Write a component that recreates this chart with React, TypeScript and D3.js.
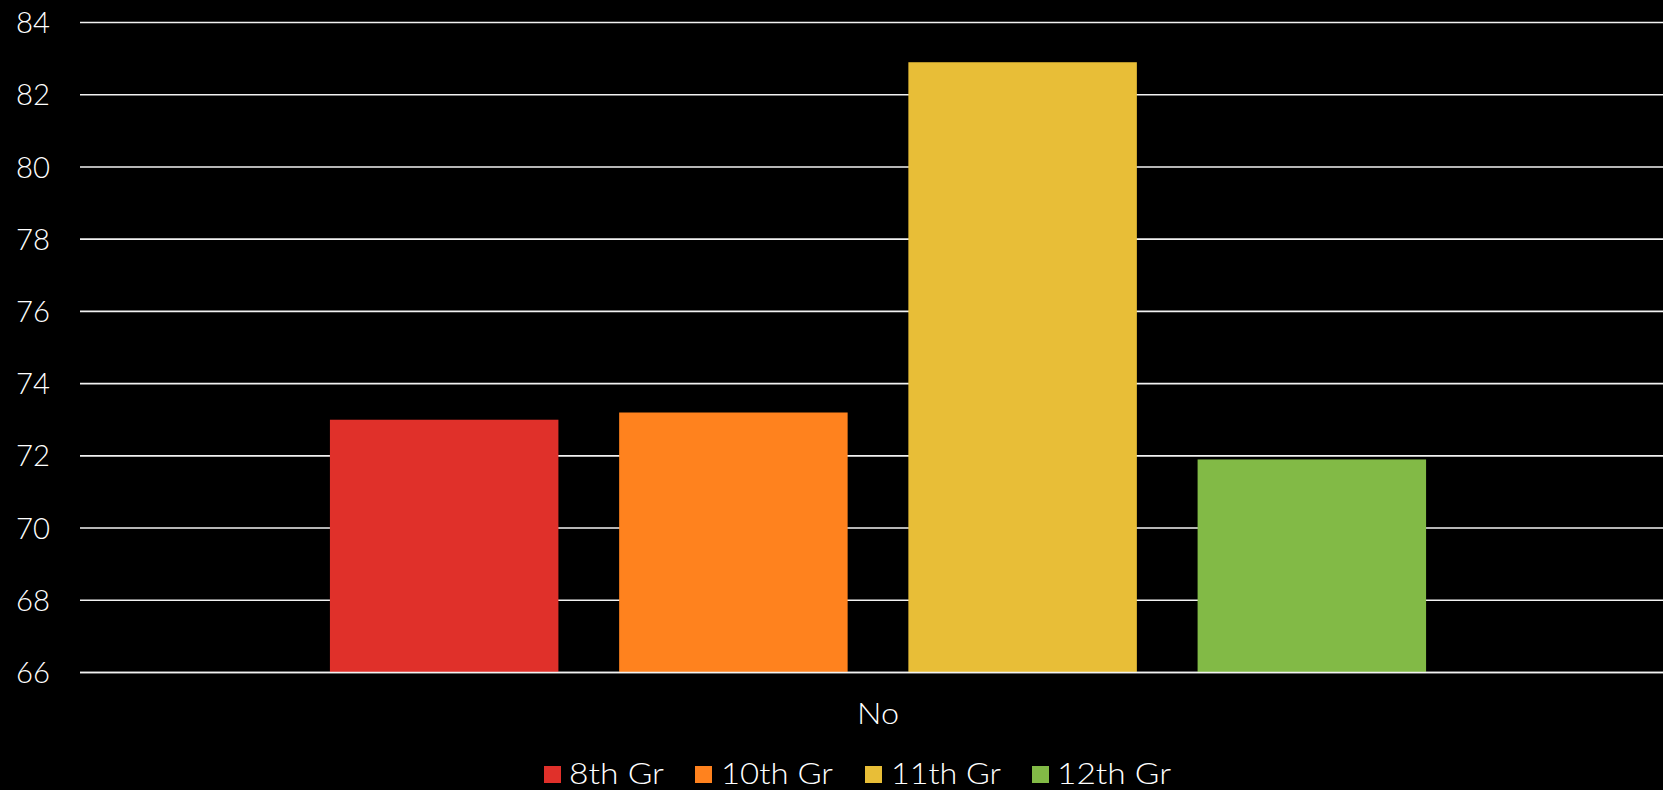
import React from "react";
import * as d3 from "d3";

const categories = ["No"];
const seriesNames = ["8th Gr", "10th Gr", "11th Gr", "12th Gr"];
const seriesValues = [73.0, 73.2, 82.9, 71.9];
const seriesColors = ["#E0302A", "#FF821E", "#E8BE37", "#82BA46"];
const yTicks = [66, 68, 70, 72, 74, 76, 78, 80, 82, 84];

const W = 1663;
const H = 790;
const FONT = "Lato, 'Open Sans', sans-serif";

export default function App() {
  const plotLeft = 80;
  const plotRight = 1676;
  const y = d3.scaleLinear().domain([66, 84]).range([672.5, 22.5]);
  const x0 = d3.scaleBand<string>().domain(categories).range([plotLeft, plotRight]).paddingInner(0).paddingOuter(0.228);
  const x1 = d3.scaleBand<string>().domain(seriesNames).range([0, x0.bandwidth()]).paddingInner(0.21).paddingOuter(0);

  const legendItems = [
    { sq: 544, tx: 569, len: 95 },
    { sq: 695, tx: 721, len: 112 },
    { sq: 865, tx: 891, len: 110 },
    { sq: 1032, tx: 1057, len: 114 },
  ];

  return (
    <svg width={W} height={H} style={{ position: "absolute", left: 0, top: 0, background: "#000", display: "block" }}>
      <rect x={0} y={0} width={W} height={H} fill="#000" />
      {yTicks.map((t) => (
        <g key={t}>
          <line x1={plotLeft} x2={W} y1={y(t)} y2={y(t)} stroke="#f2f2f2" strokeWidth={1.6} />
          <text x={50} y={y(t)} dy="0.36em" textAnchor="end" fill="#fff" fontFamily={FONT} fontWeight={300} fontSize={29.5} textLength={34} lengthAdjust="spacingAndGlyphs">
            {t}
          </text>
        </g>
      ))}
      {categories.map((c) => (
        <g key={c} transform={`translate(${x0(c)},0)`}>
          {seriesNames.map((s, i) => (
            <rect
              key={s}
              x={x1(s)}
              y={y(seriesValues[i])}
              width={x1.bandwidth()}
              height={y(66) - y(seriesValues[i])}
              fill={seriesColors[i]}
            />
          ))}
          <text x={x0.bandwidth() / 2} y={713} dy="0.36em" textAnchor="middle" fill="#fff" fontFamily={FONT} fontWeight={300} fontSize={30} textLength={42} lengthAdjust="spacingAndGlyphs">
            {c}
          </text>
        </g>
      ))}
      <line x1={plotLeft} x2={W} y1={y(66)} y2={y(66)} stroke="#f2f2f2" strokeWidth={1.6} />
      {seriesNames.map((s, i) => (
        <g key={s}>
          <rect x={legendItems[i].sq} y={766} width={17} height={17} fill={seriesColors[i]} />
          <text x={legendItems[i].tx} y={783.5} fill="#fff" fontFamily={FONT} fontWeight={300} fontSize={29.5} textLength={legendItems[i].len} lengthAdjust="spacingAndGlyphs">
            {s}
          </text>
        </g>
      ))}
    </svg>
  );
}
